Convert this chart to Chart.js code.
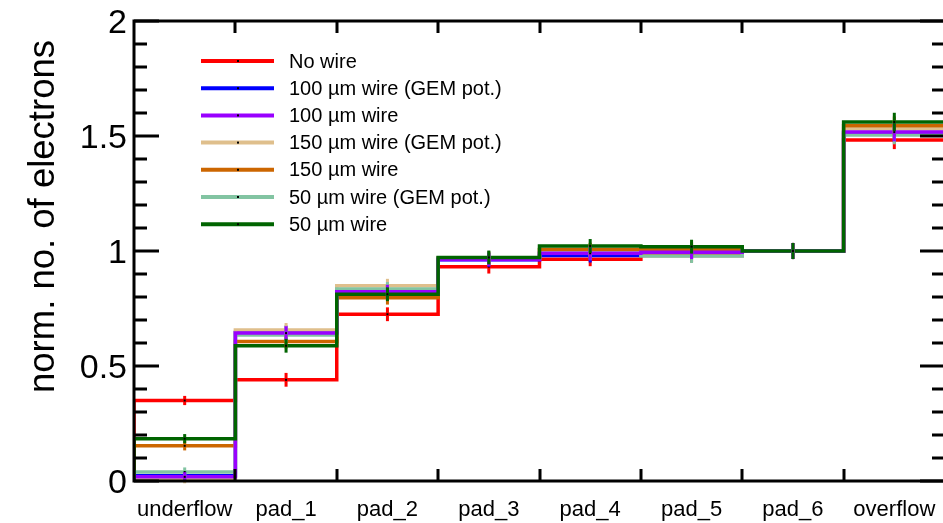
<!DOCTYPE html>
<html>
<head>
<meta charset="utf-8">
<script src="https://cdn.jsdelivr.net/npm/chart.js@4"></script>
<style>
  html, body { margin: 0; padding: 0; background: #fff; overflow: hidden; }
  canvas { display: block; }
</style>
</head>
<body>
<canvas id="padChart" width="950" height="523"></canvas>
<script>
// bins of the histogram
const categories = ["underflow", "pad_1", "pad_2", "pad_3", "pad_4", "pad_5", "pad_6", "overflow"];

// normalised number of electrons per bin
const noWire     = [0.350, 0.440, 0.725, 0.932, 0.964, 0.980, 1.000, 1.483];
const wire100Gem = [0.023, 0.646, 0.823, 0.962, 0.980, 0.995, 1.000, 1.513];
const wire100    = [0.018, 0.643, 0.823, 0.963, 0.990, 0.995, 1.000, 1.517];
const wire150Gem = [0.010, 0.657, 0.849, 0.966, 1.005, 1.003, 1.000, 1.530];
const wire150    = [0.153, 0.606, 0.797, 0.968, 1.006, 1.008, 1.000, 1.545];
const wire50Gem  = [0.039, 0.635, 0.835, 0.970, 0.990, 0.978, 1.000, 1.504];
const wire50     = [0.184, 0.588, 0.812, 0.972, 1.022, 1.019, 1.000, 1.561];

// statistical error per bin
const binErrors = [0.020, 0.030, 0.030, 0.030, 0.030, 0.030, 0.035, 0.040];

const yMajorTicks = [0, 0.5, 1, 1.5, 2];
const yTickLabels = ["0", "0.5", "1", "1.5", "2"];

// drawing layer: lower = drawn later (on top)
const series = [
    { label: "No wire", data: noWire, color: "#ff0000", layer: 0 },
    { label: "100 \u00b5m wire (GEM pot.)", data: wire100Gem, color: "#0000ff", layer: -1 },
    { label: "100 \u00b5m wire", data: wire100, color: "#9900ff", layer: -5.5 },
    { label: "150 \u00b5m wire (GEM pot.)", data: wire150Gem, color: "#dfbf8c", layer: -3 },
    { label: "150 \u00b5m wire", data: wire150, color: "#cc6600", layer: -4 },
    { label: "50 \u00b5m wire (GEM pot.)", data: wire50Gem, color: "#82c4a2", layer: -5 },
    { label: "50 \u00b5m wire", data: wire50, color: "#006400", layer: -6 },
];

// histogram outline: up from 0 at the left edge, across each bin, down at the right edge
function histPoints(values) {
    const pts = [{ x: 0, y: 0 }, { x: 0, y: values[0] }];
    values.forEach((v, i) => pts.push({ x: i + 1, y: i + 1 < values.length ? values[i + 1] : v }));
    pts.push({ x: values.length, y: 0 });
    return pts;
}

const FONT = "'Liberation Sans', Arial, sans-serif";

const rootStyle = {
    id: "rootStyle",
    afterDatasetsDraw(chart) {
        const { ctx } = chart;
        const xs = chart.scales.x, ys = chart.scales.y;
        // error bars and markers, bottom dataset first
        const metas = chart.getSortedVisibleDatasetMetas().slice().reverse();
        ctx.save();
        metas.forEach(meta => {
            const s = series[meta.index];
            s.data.forEach((v, i) => {
                const px = xs.getPixelForValue(i + 0.5);
                ctx.strokeStyle = s.color;
                ctx.lineWidth = 3;
                ctx.beginPath();
                ctx.moveTo(px, ys.getPixelForValue(v - binErrors[i]));
                ctx.lineTo(px, ys.getPixelForValue(v + binErrors[i]));
                ctx.stroke();
                ctx.fillStyle = "#000";
                ctx.fillRect(px - 1, ys.getPixelForValue(v) - 1, 2, 2);
            });
        });
        ctx.restore();
    },
    afterDraw(chart) {
        const { ctx, chartArea: a } = chart;
        const xs = chart.scales.x, ys = chart.scales.y;
        ctx.save();
        ctx.strokeStyle = "#000";
        ctx.lineWidth = 3;
        ctx.strokeRect(a.left, a.top, a.right - a.left, a.bottom - a.top);

        // y ticks left and right
        for (let k = 0; k <= 20; k++) {
            const py = Math.round(ys.getPixelForValue(k / 10));
            const len = k % 5 === 0 ? 25 : 13;
            ctx.beginPath();
            ctx.moveTo(a.left, py); ctx.lineTo(a.left + len, py);
            ctx.moveTo(a.right, py); ctx.lineTo(a.right - len, py);
            ctx.stroke();
        }
        // x ticks at bin edges, top and bottom
        for (let i = 1; i < categories.length; i++) {
            const px = Math.round(xs.getPixelForValue(i));
            ctx.beginPath();
            ctx.moveTo(px, a.bottom); ctx.lineTo(px, a.bottom - 12);
            ctx.moveTo(px, a.top); ctx.lineTo(px, a.top + 12);
            ctx.stroke();
        }

        // y tick labels
        ctx.fillStyle = "#000";
        ctx.font = "34px " + FONT;
        ctx.textAlign = "right";
        ctx.textBaseline = "alphabetic";
        yMajorTicks.forEach((v, i) => {
            ctx.fillText(yTickLabels[i], 127, ys.getPixelForValue(v) + 12);
        });

        // x labels at bin centres
        ctx.font = "22px " + FONT;
        ctx.textAlign = "center";
        categories.forEach((c, i) => {
            ctx.fillText(c, xs.getPixelForValue(i + 0.5), 516);
        });

        // y title
        ctx.save();
        ctx.translate(54, 40);
        ctx.rotate(-Math.PI / 2);
        ctx.font = "36.5px " + FONT;
        ctx.textAlign = "right";
        ctx.fillText("norm. no. of electrons", 0, 0);
        ctx.restore();

        // legend
        ctx.font = "20px " + FONT;
        ctx.textAlign = "left";
        ctx.textBaseline = "middle";
        series.forEach((s, i) => {
            const y = 61 + i * 27.2;
            ctx.strokeStyle = s.color;
            ctx.lineWidth = 4;
            ctx.beginPath();
            ctx.moveTo(201, y); ctx.lineTo(274, y);
            ctx.stroke();
            ctx.fillStyle = "#000";
            ctx.fillRect(237, y - 1, 2, 2);
            ctx.fillText(s.label, 289, y + 1);
        });
        ctx.restore();
    }
};

new Chart(document.getElementById("padChart"), {
    type: "line",
    data: {
        datasets: series.map(s => ({
            label: s.label,
            data: histPoints(s.data),
            borderColor: s.color,
            backgroundColor: s.color,
            borderWidth: 3.5,
            stepped: "before",
            pointRadius: 0,
            fill: false,
            order: s.layer,
        })),
    },
    options: {
        responsive: false,
        animation: false,
        layout: { padding: { left: 134, right: 5, top: 21, bottom: 42 } },
        scales: {
            x: { type: "linear", min: 0, max: categories.length, display: false },
            y: { type: "linear", min: 0, max: 2, display: false },
        },
        plugins: {
            legend: { display: false },
            tooltip: { enabled: false },
        },
    },
    plugins: [rootStyle],
});
</script>
</body>
</html>
